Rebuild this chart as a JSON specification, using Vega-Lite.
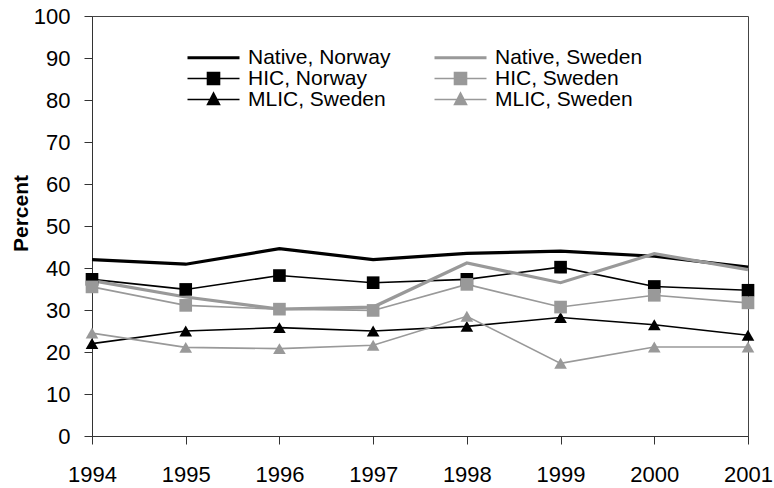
{
  "$schema": "https://vega.github.io/schema/vega-lite/v6.json",
  "autosize": {"type": "none"},
  "width": 656,
  "height": 420,
  "padding": {"left": 92, "top": 16, "right": 26, "bottom": 52},
  "background": "white",
  "config": {
    "font": "Liberation Sans",
    "view": {"stroke": "#444", "strokeWidth": 1}
  },
  "data": {
    "values": [
      {"year": 1994, "series": "a", "value": 42.0},
      {"year": 1995, "series": "a", "value": 40.9},
      {"year": 1996, "series": "a", "value": 44.6},
      {"year": 1997, "series": "a", "value": 42.0},
      {"year": 1998, "series": "a", "value": 43.5},
      {"year": 1999, "series": "a", "value": 44.0},
      {"year": 2000, "series": "a", "value": 42.8},
      {"year": 2001, "series": "a", "value": 40.2},
      {"year": 1994, "series": "c", "value": 37.3},
      {"year": 1995, "series": "c", "value": 34.9},
      {"year": 1996, "series": "c", "value": 38.2},
      {"year": 1997, "series": "c", "value": 36.5},
      {"year": 1998, "series": "c", "value": 37.3},
      {"year": 1999, "series": "c", "value": 40.2},
      {"year": 2000, "series": "c", "value": 35.6},
      {"year": 2001, "series": "c", "value": 34.7},
      {"year": 1994, "series": "e", "value": 22.0},
      {"year": 1995, "series": "e", "value": 25.0},
      {"year": 1996, "series": "e", "value": 25.8},
      {"year": 1997, "series": "e", "value": 25.0},
      {"year": 1998, "series": "e", "value": 26.1},
      {"year": 1999, "series": "e", "value": 28.2},
      {"year": 2000, "series": "e", "value": 26.5},
      {"year": 2001, "series": "e", "value": 24.0},
      {"year": 1994, "series": "b", "value": 37.0},
      {"year": 1995, "series": "b", "value": 33.1},
      {"year": 1996, "series": "b", "value": 30.2},
      {"year": 1997, "series": "b", "value": 30.7},
      {"year": 1998, "series": "b", "value": 41.2},
      {"year": 1999, "series": "b", "value": 36.5},
      {"year": 2000, "series": "b", "value": 43.4},
      {"year": 2001, "series": "b", "value": 39.6},
      {"year": 1994, "series": "d", "value": 35.5},
      {"year": 1995, "series": "d", "value": 31.1},
      {"year": 1996, "series": "d", "value": 30.2},
      {"year": 1997, "series": "d", "value": 29.9},
      {"year": 1998, "series": "d", "value": 36.1},
      {"year": 1999, "series": "d", "value": 30.7},
      {"year": 2000, "series": "d", "value": 33.5},
      {"year": 2001, "series": "d", "value": 31.7},
      {"year": 1994, "series": "f", "value": 24.5},
      {"year": 1995, "series": "f", "value": 21.1},
      {"year": 1996, "series": "f", "value": 20.8},
      {"year": 1997, "series": "f", "value": 21.6},
      {"year": 1998, "series": "f", "value": 28.5},
      {"year": 1999, "series": "f", "value": 17.3},
      {"year": 2000, "series": "f", "value": 21.2},
      {"year": 2001, "series": "f", "value": 21.2}
    ]
  },
  "encoding": {
    "x": {
      "field": "year", "type": "quantitative",
      "scale": {"domain": [1994, 2001], "nice": false, "zero": false},
      "axis": {
        "title": null, "values": [1994, 1995, 1996, 1997, 1998, 1999, 2000, 2001],
        "format": "d", "grid": false, "tickSize": 8, "labelPadding": 20,
        "labelFont": "Liberation Sans", "labelFontSize": 22, "labelColor": "#000",
        "domainColor": "#333", "tickColor": "#333", "labelFlush": false, "labelOverlap": false
      }
    },
    "y": {
      "field": "value", "type": "quantitative",
      "scale": {"domain": [0, 100], "nice": false},
      "axis": {
        "title": "Percent", "values": [0, 10, 20, 30, 40, 50, 60, 70, 80, 90, 100],
        "grid": false, "tickSize": 8, "labelPadding": 14,
        "labelFont": "Liberation Sans", "labelFontSize": 22, "labelColor": "#000",
        "domainColor": "#333", "tickColor": "#333",
        "titleFont": "Liberation Sans", "titleFontSize": 21, "titleFontWeight": "bold", "titleColor": "#000",
        "titleX": -71, "titleY": 197, "titleAngle": -90, "titleAlign": "center", "titleBaseline": "middle"
      }
    },
    "color": {
      "field": "series", "type": "nominal",
      "scale": {"domain": ["a", "c", "e", "b", "d", "f"], "range": ["#000000", "#000000", "#000000", "#999999", "#999999", "#999999"]}
    }
  },
  "layer": [
    {
      "transform": [{"filter": "datum.series === 'c' || datum.series === 'e' || datum.series === 'd' || datum.series === 'f'"}],
      "mark": {"type": "line", "strokeWidth": 1.6},
      "encoding": {
        "color": {
          "field": "series", "type": "nominal",
          "scale": {"domain": ["a", "c", "e", "b", "d", "f"], "range": ["#000000", "#000000", "#000000", "#999999", "#999999", "#999999"]},
          "legend": {
            "orient": "none", "legendX": 85, "legendY": 31, "columns": 2, "title": null,
            "padding": 0, "symbolSize": 4, "labelFont": "Liberation Sans", "labelFontSize": 21,
            "labelColor": "#000", "labelOffset": 50, "labelLimit": 0, "rowPadding": -1, "columnPadding": 33,
            "labelExpr": "({'a': 'Native, Norway', 'b': 'Native, Sweden', 'c': 'HIC, Norway', 'd': 'HIC, Sweden', 'e': 'MLIC, Sweden', 'f': 'MLIC, Sweden'})[datum.value]",
            "encode": {
              "symbols": {
                "update": {
                  "shape": {"signal": "(datum.value === 'a' || datum.value === 'b') ? 'M0,0H52' : ((datum.value === 'c' || datum.value === 'd') ? 'M0,0H52M20,-6H32V6H20Z' : 'M0,0H52M20,5L26,-6.5L32,5Z')"},
                  "fill": {"signal": "(datum.value === 'a' || datum.value === 'c' || datum.value === 'e') ? '#000000' : '#999999'"},
                  "stroke": {"signal": "(datum.value === 'a' || datum.value === 'c' || datum.value === 'e') ? '#000000' : '#999999'"},
                  "strokeWidth": {"signal": "(datum.value === 'a' || datum.value === 'b') ? 3 : 1.6"},
                  "opacity": {"value": 1},
                  "fillOpacity": {"value": 1}
                }
              }
            }
          }
        }
      }
    },
    {
      "transform": [{"filter": "datum.series === 'a' || datum.series === 'b'"}],
      "mark": {"type": "line", "strokeWidth": 3.2},
      "encoding": {}
    },
    {
      "transform": [{"filter": "datum.series === 'c' || datum.series === 'e' || datum.series === 'd' || datum.series === 'f'"}],
      "mark": {"type": "point", "filled": true, "opacity": 1, "size": 160},
      "encoding": {
        "shape": {
          "field": "series", "type": "nominal",
          "scale": {"domain": ["c", "d", "e", "f"], "range": ["square", "square", "triangle-up", "triangle-up"]},
          "legend": null
        }
      }
    }
  ]
}
